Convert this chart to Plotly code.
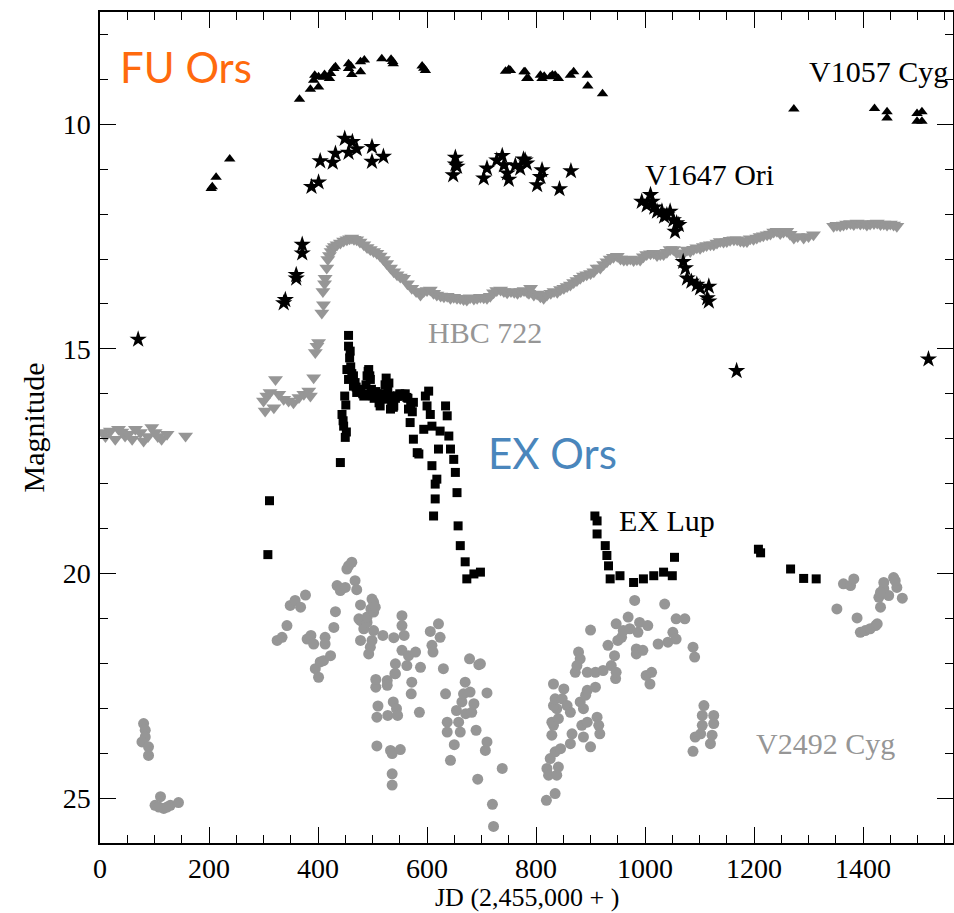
import plotly.graph_objects as go

# ---------------- data (JD - 2,455,000 ; magnitude) ----------------
v1057_jd = [204, 206, 213, 238, 366, 386, 401, 394, 392, 401, 410, 412, 421, 423, 429, 432,
            456, 456, 460, 462, 478, 478, 485, 517, 534, 537, 538, 591, 594, 597,
            744, 750, 753, 778, 780, 783, 786, 808, 811, 815, 826, 830, 835, 841, 863, 869,
            894, 895, 922, 1273, 1421, 1444, 1444, 1499, 1508, 1499, 1508]
v1057_mag = [11.43, 11.39, 11.18, 10.77, 9.44, 9.22, 9.17, 8.91, 9.02, 8.94, 8.95, 8.89, 8.98, 8.87, 8.76, 8.72,
             8.65, 8.76, 8.70, 8.89, 8.61, 8.83, 8.57, 8.54, 8.55, 8.60, 8.65, 8.70, 8.75, 8.80,
             8.82, 8.78, 8.80, 8.83, 8.83, 8.98, 8.98, 8.91, 8.98, 8.93, 8.94, 8.90, 8.91, 8.98, 8.91, 8.83,
             8.91, 9.15, 9.32, 9.66, 9.65, 9.72, 9.86, 9.76, 9.72, 9.93, 9.93]

v1647_jd = [70, 337, 340, 360, 360, 371, 371, 388, 401, 404, 427, 432, 449, 456, 463, 471, 499, 499, 520,
            648, 652, 652, 655, 704, 710, 728, 738, 741, 747, 750, 762, 771, 777, 783, 780, 808, 811, 802, 843, 864,
            994, 1003, 1010, 1013, 1017, 1022, 1031, 1035, 1040, 1046, 1052, 1058, 1062, 1055,
            1070, 1074, 1077, 1085, 1095, 1101, 1117, 1114, 1117, 1168, 1520]
v1647_mag = [14.79, 13.98, 13.91, 13.35, 13.43, 12.68, 12.87, 11.39, 11.29, 10.82, 10.85, 10.65, 10.32, 10.63, 10.39, 10.55, 10.50, 10.83, 10.72,
             11.13, 10.74, 10.89, 10.94, 11.20, 10.98, 10.80, 10.70, 10.91, 11.09, 11.23, 10.92, 10.98, 10.78, 10.87, 10.80, 11.17, 11.02, 11.35, 11.44, 11.04,
             11.72, 11.80, 11.57, 11.72, 11.85, 11.94, 11.94, 12.05, 12.02, 11.94, 12.13, 12.20, 12.24, 12.39,
             13.06, 13.20, 13.43, 13.50, 13.57, 13.65, 13.61, 13.87, 13.94, 15.49, 15.23]

hbc722_jd = [6, 10, 19, 28, 34, 40, 46, 52, 59, 65, 74, 80, 88, 95, 101, 106, 113, 123, 157,
             300, 303, 306, 312, 319, 322, 328, 337, 346, 355, 365, 374, 383, 386, 392,
             395, 398, 401, 407, 410, 409, 412, 413, 416, 418, 421, 424, 427, 430, 435, 441, 447, 453, 458,
             462, 466, 471, 477, 484, 490, 496, 502, 508, 514, 520, 526, 533, 539, 545, 551, 557, 564, 572,
             580, 588, 594, 600, 606, 612, 618, 625, 631, 637, 643, 649, 655, 661, 667, 673, 679, 686, 692,
             698, 704, 710, 716, 722, 728, 735, 741, 747, 754, 760, 766, 772, 778, 784, 787, 790, 796, 802,
             808, 814, 820, 827, 833, 839, 845, 851, 857, 863, 869, 875, 881, 887, 893, 900, 906, 912, 918,
             924, 930, 936, 942, 949, 955, 961, 967, 973, 979, 985, 991, 997, 1003, 1010, 1016, 1022, 1028,
             1034, 1040, 1046, 1052, 1058, 1064, 1071, 1077, 1083, 1089, 1095, 1101, 1107, 1113, 1120, 1126,
             1132, 1138, 1144, 1150, 1156, 1163, 1169, 1175, 1181, 1187, 1193, 1199, 1205, 1211, 1217, 1224,
             1230, 1236, 1242, 1248, 1254, 1260, 1266, 1273, 1280, 1291, 1300, 1309, 1346, 1352, 1358, 1364,
             1370, 1377, 1383, 1389, 1395, 1401, 1407, 1413, 1420, 1426, 1432, 1438, 1444, 1450, 1456, 1462]
hbc722_mag = [16.86, 16.95, 16.83, 17.01, 16.79, 16.85, 16.94, 16.90, 17.01, 16.79, 16.86, 17.05, 16.95, 16.75, 16.86, 16.95, 17.01, 16.90, 16.94,
              16.16, 16.38, 16.05, 15.97, 16.31, 15.68, 16.01, 16.12, 16.16, 16.20, 16.08, 16.01, 15.94, 16.05, 15.64,
              15.08, 14.94, 14.86, 14.20, 14.02, 13.72, 13.55, 13.43, 13.20, 13.01, 12.92, 12.83, 12.77, 12.72, 12.68, 12.64, 12.60, 12.57, 12.55,
              12.53, 12.56, 12.57, 12.62, 12.68, 12.74, 12.79, 12.83, 12.87, 12.93, 13.01, 13.10, 13.20, 13.28, 13.35, 13.40, 13.43, 13.55, 13.65,
              13.72, 13.80, 13.72, 13.70, 13.69, 13.76, 13.80, 13.82, 13.84, 13.83, 13.87, 13.85, 13.87, 13.88, 13.90, 13.91, 13.86, 13.89, 13.87,
              13.85, 13.86, 13.87, 13.83, 13.75, 13.70, 13.69, 13.72, 13.75, 13.72, 13.74, 13.76, 13.72, 13.70, 13.74, 13.76, 13.65, 13.80, 13.78,
              13.84, 13.87, 13.80, 13.76, 13.72, 13.74, 13.68, 13.65, 13.61, 13.58, 13.52, 13.48, 13.43, 13.38, 13.35, 13.32, 13.28, 13.20, 13.20,
              13.12, 13.06, 13.00, 12.96, 12.94, 13.00, 13.02, 13.02, 13.00, 13.03, 13.01, 13.02, 12.95, 12.90, 12.88, 12.87, 12.92, 12.90,
              12.90, 12.85, 12.79, 12.79, 12.86, 12.87, 12.87, 12.80, 12.83, 12.78, 12.75, 12.76, 12.72, 12.70, 12.68, 12.68,
              12.64, 12.61, 12.62, 12.61, 12.58, 12.57, 12.57, 12.60, 12.61, 12.61, 12.55, 12.56, 12.53, 12.50, 12.48, 12.46,
              12.44, 12.40, 12.38, 12.43, 12.40, 12.38, 12.45, 12.53, 12.50, 12.53, 12.50, 12.46, 12.27, 12.25, 12.26, 12.24,
              12.22, 12.21, 12.23, 12.20, 12.22, 12.21, 12.24, 12.22, 12.21, 12.20, 12.23, 12.22, 12.24, 12.22, 12.24, 12.27]

exlup_jd = [308, 311, 441, 444, 446, 447, 449, 450, 451, 452, 453, 456, 456, 456, 458, 459, 460, 462, 465, 465,
            468, 470, 471, 475, 478, 482, 484, 488, 490, 492, 493, 495, 496, 498, 500, 503, 506, 508, 510,
            512, 514, 516, 520, 523, 525, 526, 528, 530, 531, 533, 535, 538, 539, 542, 545, 546, 550, 554,
            556, 560, 563, 565, 566, 569, 570, 573, 575, 575, 582, 585, 594, 597, 600, 603, 606, 609, 609,
            612, 615, 615, 618, 621, 624, 634, 637, 640, 643, 649, 652, 655, 657, 661, 670, 673, 686, 698,
            908, 912, 912, 927, 930, 933, 936, 954, 979, 997, 1016, 1034, 1050, 1054, 1208, 1212, 1267, 1291, 1314]
exlup_mag = [19.58, 18.38, 17.53, 16.46, 16.60, 16.72, 16.05, 16.97, 16.25, 16.85, 15.46, 14.70, 14.94, 15.68, 15.20, 15.05, 15.40, 15.55, 15.60, 15.83,
             15.75, 15.85, 15.97, 15.90, 15.95, 16.00, 16.05, 15.80, 15.60, 15.50, 15.46, 15.60, 15.68, 15.90, 16.05, 16.10, 15.95, 16.05, 16.00,
             16.20, 16.27, 16.10, 16.00, 15.80, 15.65, 16.12, 15.90, 15.76, 16.05, 16.34, 16.20, 16.30, 16.27, 16.10, 16.05, 16.05, 16.00, 16.01,
             16.05, 16.00, 16.08, 16.10, 16.34, 16.64, 16.25, 16.40, 16.19, 17.01, 17.31, 17.34, 16.79, 16.05, 16.27, 15.94, 16.46, 16.72, 17.60,
             18.72, 18.01, 18.34, 17.90, 17.23, 16.83, 16.27, 16.49, 16.94, 17.23, 17.46, 17.75, 18.20, 18.94, 19.38, 19.74, 20.12, 20.01, 19.97,
             18.72, 18.83, 19.12, 19.38, 19.60, 19.83, 20.12, 20.05, 20.20, 20.12, 20.05, 19.97, 20.05, 19.64, 19.46, 19.54, 19.90, 20.11, 20.12]

v2492_jd = [80, 83, 83, 77, 89, 89, 101, 111, 117, 129, 144, 108, 123,
            325, 334, 343, 349, 358, 368, 377, 380, 387, 392, 395, 401, 404, 410, 413, 413, 423, 429, 432, 435,
            441, 450, 453, 456, 462, 468, 471, 475, 478, 478, 478, 484, 490, 490, 493, 496, 497, 499, 499, 502,
            502, 502, 505, 506, 506, 508, 508, 510, 519, 527, 527, 528, 533, 536, 536, 536, 538, 539, 541, 542,
            542, 544, 546, 551, 554, 554, 554, 558, 563, 566, 571, 572, 579, 586, 588, 606, 609, 611, 621, 624,
            630, 634, 637, 637, 643, 650, 654, 658, 661, 664, 667, 670, 671, 678, 679, 682, 686, 690, 693, 695,
            698, 707, 710, 710, 720, 722, 738,
            819, 835, 820, 823, 826, 838, 841, 835, 845, 829, 832, 829, 841, 838, 832, 835, 832, 851, 848, 857,
            863, 866, 863, 881, 887, 891, 894, 884, 887, 894, 900, 912, 915, 917, 878, 881, 872, 875, 894, 909,
            909, 900,
            1088, 1092, 1102, 1105, 1105, 1108, 1120, 1123, 1126, 1126,
            923, 932, 938, 944, 946, 947, 947, 950, 957, 960, 969, 972, 981, 987, 984, 984, 996, 990, 1005, 1002,
            1009, 1012, 1024, 1036, 1042, 1051, 1057, 1057, 1073, 1088, 1091,
            1352, 1364, 1377, 1383, 1389, 1395, 1404, 1413, 1423, 1426, 1432, 1429, 1438, 1447, 1438, 1456, 1462,
            1472, 1432, 1459]
v2492_mag = [23.34, 23.49, 23.64, 23.75, 23.86, 24.05, 25.16, 24.97, 25.23, 25.16, 25.10, 25.20, 25.20,
             21.49, 21.42, 21.16, 20.71, 20.60, 20.75, 20.48, 21.46, 21.38, 21.57, 22.12, 22.31, 21.97, 21.94, 21.42, 21.57, 21.83, 21.20, 20.85, 20.27,
             20.38, 20.31, 19.90, 19.83, 19.75, 20.16, 20.36, 21.01, 20.70, 21.05, 21.49, 21.23, 21.09, 20.97, 21.79, 21.64, 20.79, 20.57, 21.49, 20.86,
             21.27, 20.64, 20.75, 22.53, 22.36, 23.20, 23.84, 22.95, 21.38, 22.38, 22.49, 23.16, 23.94, 24.01, 24.46, 24.71, 22.86, 21.43, 22.23, 22.01,
             22.23, 23.01, 23.16, 23.92, 20.94, 21.16, 21.71, 21.38, 22.05, 21.83, 22.68, 22.42, 21.75, 23.09, 22.09, 21.29, 21.60, 21.75, 21.12, 21.42,
             22.12, 22.68, 23.31, 23.53, 24.16, 23.81, 23.05, 23.31, 23.53, 22.86, 22.68, 22.42, 23.12, 21.90, 22.64, 23.09, 22.90, 23.49, 24.58, 22.03,
             22.01, 23.94, 22.66, 23.75, 25.14, 25.63, 24.34,
             25.05, 24.90, 24.34, 24.49, 24.12, 24.49, 24.31, 23.97, 23.90, 23.60, 23.38, 23.31, 23.23, 23.01, 22.94, 22.79, 22.46, 22.57, 22.79, 22.94,
             23.09, 23.57, 23.79, 22.86, 23.01, 22.71, 22.60, 23.38, 23.64, 23.31, 23.86, 23.20, 23.38, 23.57, 21.75, 21.90, 22.20, 22.05, 22.20, 22.20,
             22.53, 21.26,
             23.96, 23.64, 23.57, 23.38, 23.16, 22.94, 23.79, 23.60, 23.34, 23.16,
             22.16, 21.60, 22.05, 21.83, 22.34, 22.20, 21.12, 21.49, 21.42, 21.27, 20.97, 21.23, 20.60, 21.31, 21.68, 21.79, 21.71, 21.09, 21.16, 22.27,
             22.46, 22.20, 21.57, 20.68, 21.53, 21.31, 21.46, 21.01, 21.01, 21.64, 21.86,
             20.79, 20.23, 20.27, 20.12, 20.99, 21.31, 21.27, 21.23, 21.16, 21.12, 20.75, 20.53, 20.34, 20.49, 20.20, 20.09, 20.31,
             20.55, 20.42, 20.16]

labels = ["FU Ors", "EX Ors", "V1057 Cyg", "V1647 Ori", "HBC 722", "EX Lup", "V2492 Cyg"]
x_title = "JD (2,455,000 + )"
y_title = "Magnitude"
x_ticks = [0, 200, 400, 600, 800, 1000, 1200, 1400]
y_ticks = [10, 15, 20, 25]

GRAY = "#969696"
SERIF = "Liberation Serif, Times New Roman, serif"
SANS = "Lato, Open Sans, sans-serif"

fig = go.Figure()
fig.add_trace(go.Scatter(x=hbc722_jd, y=hbc722_mag, mode="markers", name="HBC 722",
                         marker=dict(symbol="triangle-down", size=13, color=GRAY, line=dict(width=0))))
fig.add_trace(go.Scatter(x=v2492_jd, y=v2492_mag, mode="markers", name="V2492 Cyg",
                         marker=dict(symbol="circle", size=11, color=GRAY, line=dict(width=0))))
fig.add_trace(go.Scatter(x=v1057_jd, y=v1057_mag, mode="markers", name="V1057 Cyg",
                         marker=dict(symbol="triangle-up", size=10, color="black", line=dict(width=0))))
fig.add_trace(go.Scatter(x=v1647_jd, y=v1647_mag, mode="markers", name="V1647 Ori",
                         marker=dict(symbol="star", size=13, color="black", line=dict(width=0))))
fig.add_trace(go.Scatter(x=exlup_jd, y=exlup_mag, mode="markers", name="EX Lup",
                         marker=dict(symbol="square", size=9, color="black", line=dict(width=0))))

ann = [
    dict(text=labels[0], x=33, y=8.72, font=dict(family=SANS, size=42, color="#FF6A0D")),
    dict(text=labels[1], x=708, y=17.32, font=dict(family=SANS, size=42, color="#4A86BC")),
    dict(text=labels[2], x=1297, y=8.82, font=dict(family=SERIF, size=30, color="black")),
    dict(text=labels[3], x=997, y=11.12, font=dict(family=SERIF, size=30, color="black")),
    dict(text=labels[4], x=599, y=14.63, font=dict(family=SERIF, size=30, color=GRAY)),
    dict(text=labels[5], x=948, y=18.82, font=dict(family=SERIF, size=30, color="black")),
    dict(text=labels[6], x=1199, y=23.79, font=dict(family=SERIF, size=30, color=GRAY)),
]
for a in ann:
    fig.add_annotation(xref="x", yref="y", xanchor="left", yanchor="middle", showarrow=False, **a)

# axis titles
fig.add_annotation(text=x_title, xref="paper", yref="paper", x=0.5, y=-0.066, xanchor="center",
                   yanchor="middle", showarrow=False, font=dict(family=SERIF, size=26, color="black"))
fig.add_annotation(text=y_title, xref="paper", yref="paper", x=-0.0775, y=0.5, xanchor="center",
                   yanchor="middle", textangle=-90, showarrow=False,
                   font=dict(family=SERIF, size=30, color="black"))

axis_common = dict(showgrid=False, zeroline=False, showline=True, linecolor="black", linewidth=1.5,
                   mirror="allticks", ticks="inside", tickcolor="black", tickwidth=1.2, ticklen=16,
                   automargin=False, tickfont=dict(family=SERIF, size=28, color="black"))

fig.update_xaxes(range=[0, 1565], tickvals=x_ticks, ticktext=[str(v) for v in x_ticks],
                 minor=dict(dtick=50, tick0=0, ticks="inside", ticklen=8, tickcolor="black", tickwidth=1.2),
                 ticklabelstandoff=0, **axis_common)
fig.update_yaxes(range=[26, 7.5], tickvals=y_ticks, ticktext=[str(v) for v in y_ticks],
                 minor=dict(dtick=1, tick0=0, ticks="inside", ticklen=8, tickcolor="black", tickwidth=1.2),
                 ticklabelstandoff=2, **axis_common)

fig.update_layout(width=954, height=913, margin=dict(l=100, r=1, t=12, b=70),
                  paper_bgcolor="white", plot_bgcolor="white", showlegend=False)

fig.write_html("out.html")
